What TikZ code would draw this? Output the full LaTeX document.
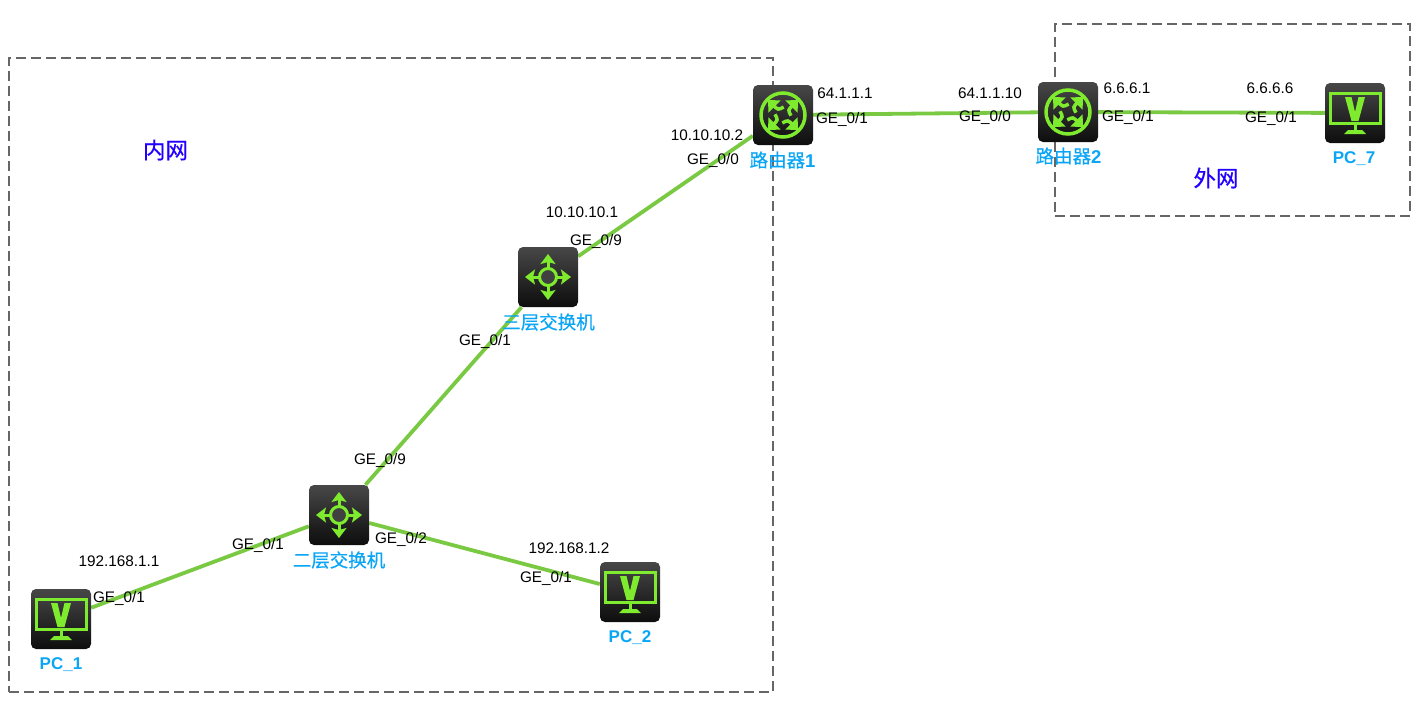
\documentclass[tikz,border=0pt]{standalone}
\usepackage{fontspec}
\setmainfont{Liberation Sans}
\newfontfamily\cjk[FakeBold=0.5]{Noto Sans CJK SC}
\usepackage{xcolor}
\usetikzlibrary{arrows.meta,backgrounds}

\definecolor{linkgreen}{HTML}{7AC943}
\definecolor{icongreen}{HTML}{7FEB2E}
\definecolor{namecyan}{HTML}{0AA5F5}
\definecolor{zoneblue}{HTML}{2200FF}
\definecolor{boxgray}{HTML}{666666}
\newcommand{\cjkname}[1]{{\cjk\mdseries #1}}

\begin{document}
\begin{tikzpicture}[
x=1pt, y=-1pt,
device/.style={rounded corners=5pt, minimum size=60pt, inner sep=0pt,
               top color=black!72, bottom color=black!95},
link/.style={draw=linkgreen, line width=3.8pt},
zone/.style={draw=boxgray, line width=2.5pt, dash pattern=on 10pt off 5pt},
port/.style={font=\fontsize{15.3}{15.3}\selectfont, inner sep=0pt, text=black},
devname/.style={font=\fontsize{18.5}{18.5}\selectfont\bfseries, inner sep=0pt, text=namecyan},
pcname/.style={font=\fontsize{17}{17}\selectfont\bfseries, inner sep=0pt, text=namecyan},
zonename/.style={font=\fontsize{22.5}{22.5}\selectfont\cjk, inner sep=0pt, text=zoneblue},
arm/.style={draw=icongreen, line width=3pt, -{Stealth[length=10pt,width=15pt,inset=2pt]}},
routericon/.pic={
  \draw[icongreen, line width=3.5pt] (0,0) circle (22);
  \foreach \a in {45,135,225,315} {
    \draw[arm, -{Triangle[length=9pt,width=17pt]}] (\a:12) -- (\a:21);
    \draw[icongreen, line width=3.5pt] (\a:14) .. controls (\a:7) .. (\a+50:8);
  }
},
switchicon/.pic={
  \foreach \a in {0,90,180,270} {
    \draw[arm] (\a:9) -- (\a:23);
  }
  \draw[icongreen, line width=3pt, fill=black!75] (0,0) circle (8.5);
},
pcicon/.pic={
  \draw[icongreen, line width=3pt] (-25,-20) rectangle (25,10);
  \fill[icongreen] (-1.5,11) rectangle (1.5,17);
  \fill[icongreen] (-11,21) -- (-7,17) -- (7,17) -- (11,21) -- cycle;
  \fill[icongreen] (-10,-16) -- (-3.5,-16) -- (0,-1) -- (3.5,-16) -- (10,-16) -- (3.5,8) -- (-3.5,8) -- cycle;
}
]

\useasboundingbox (0,0) rectangle (1416,707);

\node[device] (router1) at (783,115) {};
\node[device] (router2) at (1068,112) {};
\node[device] (coresw) at (548,277) {};
\node[device] (accesssw) at (339,515) {};
\node[device] (pc1) at (61,619) {};
\node[device] (pc2) at (630,592) {};
\node[device] (pc7) at (1355,113) {};

\pic at (router1) {routericon};
\pic at (router2) {routericon};
\pic at (coresw) {switchicon};
\pic at (accesssw) {switchicon};
\pic at (pc1) {pcicon};
\pic at (pc2) {pcicon};
\pic at (pc7) {pcicon};

\begin{scope}[on background layer]
\node[zone, minimum width=764pt, minimum height=634pt, inner sep=0pt] (inner) at (391,375) {};
\node[zone, minimum width=355pt, minimum height=192pt, inner sep=0pt] (outer) at (1232.5,120) {};
\draw[link] (router1) -- (router2);
\draw[link] (router2) -- (pc7);
\draw[link] (router1) -- (coresw);
\draw[link] (coresw) -- (accesssw);
\draw[link] (accesssw) -- (pc1);
\draw[link] (accesssw) -- (pc2);
\end{scope}

\node[devname] (router1name) at (782.5,160) {\cjkname{路由器}1};
\node[devname] (router2name) at (1068.5,156) {\cjkname{路由器}2};
\node[devname] (coreswname) at (548.5,322) {\cjkname{三层交换机}};
\node[devname] (accessswname) at (339,560) {\cjkname{二层交换机}};
\node[pcname] (pc1name) at (61,665) {PC\_1};
\node[pcname] (pc2name) at (630,638) {PC\_2};
\node[pcname] (pc7name) at (1354,159) {PC\_7};

\node[zonename] (innername) at (165.5,150) {内网};
\node[zonename] (outername) at (1216,178) {外网};

\node[port] at (845,93) {64.1.1.1};
\node[port] at (842,119) {GE\_0/1};
\node[port] at (990,93) {64.1.1.10};
\node[port] at (985,117) {GE\_0/0};
\node[port] at (1127,88) {6.6.6.1};
\node[port] at (1128,117) {GE\_0/1};
\node[port] at (1270,88) {6.6.6.6};
\node[port] at (1271,118) {GE\_0/1};
\node[port] at (707,135) {10.10.10.2};
\node[port] at (713,160) {GE\_0/0};
\node[port] at (582,212) {10.10.10.1};
\node[port] at (596,241) {GE\_0/9};
\node[port] at (485,341) {GE\_0/1};
\node[port] at (380,460) {GE\_0/9};
\node[port] at (258,545) {GE\_0/1};
\node[port] at (401,539) {GE\_0/2};
\node[port] at (119,561) {192.168.1.1};
\node[port] at (119,598) {GE\_0/1};
\node[port] at (569,548) {192.168.1.2};
\node[port] at (546,578) {GE\_0/1};

\end{tikzpicture}
\end{document}
